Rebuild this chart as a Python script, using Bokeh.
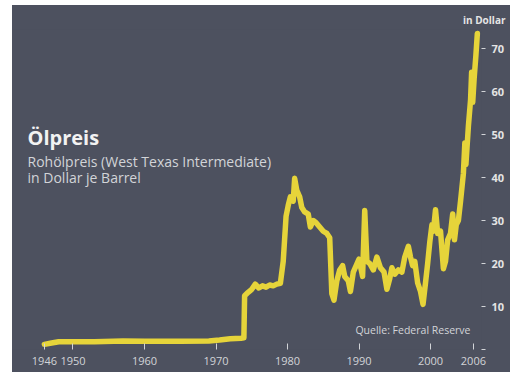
from bokeh.plotting import figure
from bokeh.models import Range1d, FixedTicker, Label, Title
from bokeh.embed import file_html
from bokeh.resources import INLINE

# WTI crude oil price, US dollars per barrel
years = [1946.0, 1947.0, 1948.0, 1953.0, 1957.0, 1960.0, 1965.0, 1969.0, 1970.5, 1972.0, 1973.5, 1973.9,
         1974.0, 1974.5, 1975.0, 1975.5, 1976.0, 1976.5, 1977.0, 1977.5, 1978.0, 1978.5, 1979.0, 1979.4,
         1979.8, 1980.1, 1980.4, 1980.8, 1981.0, 1981.3, 1981.7, 1982.0, 1982.4, 1982.9, 1983.2, 1983.6,
         1984.0, 1984.5, 1985.0, 1985.5, 1985.9, 1986.2, 1986.5, 1986.9, 1987.3, 1987.7, 1988.0, 1988.5,
         1988.8, 1989.2, 1989.6, 1990.0, 1990.5, 1990.8, 1991.1, 1991.5, 1992.0, 1992.5, 1993.0, 1993.5,
         1993.9, 1994.3, 1994.6, 1995.0, 1995.5, 1996.0, 1996.4, 1996.9, 1997.2, 1997.5, 1997.8, 1998.2,
         1998.6, 1998.95, 1999.3, 1999.6, 1999.9, 2000.2, 2000.4, 2000.7, 2001.0, 2001.4, 2001.8, 2002.1,
         2002.4, 2002.8, 2003.1, 2003.35, 2003.6, 2003.9, 2004.2, 2004.6, 2004.8, 2004.95, 2005.3, 2005.6,
         2005.75, 2005.9, 2006.1, 2006.35, 2006.55]
prices = [1.2, 1.5, 1.8, 1.8, 2.0, 1.9, 1.9, 2.0, 2.2, 2.5, 2.6, 2.7,
          12.5, 13.3, 14.0, 15.2, 14.3, 14.8, 14.5, 15.0, 14.8, 15.2, 15.4, 20.5,
          31.0, 33.5, 35.5, 34.5, 39.8, 37.0, 35.5, 33.0, 32.0, 31.5, 28.5, 30.0,
          29.5, 28.5, 27.5, 27.0, 26.0, 13.0, 11.5, 16.0, 18.5, 19.5, 17.0, 16.0,
          13.5, 18.0, 19.5, 21.0, 17.0, 32.3, 20.5, 20.0, 18.5, 21.5, 19.0, 18.0,
          14.0, 16.5, 19.0, 17.5, 18.5, 18.0, 21.5, 24.0, 21.5, 19.5, 20.5, 15.5,
          13.5, 10.5, 15.5, 20.0, 25.0, 29.0, 27.5, 32.5, 27.0, 27.5, 18.8, 20.5,
          25.5, 27.0, 31.5, 25.5, 29.0, 30.0, 34.5, 41.0, 48.0, 43.0, 52.0, 58.0,
          64.5, 57.5, 63.0, 68.5, 73.5]

year_ticks = [1946, 1950, 1960, 1970, 1980, 1990, 2000, 2006]
price_ticks = [0, 10, 20, 30, 40, 50, 60, 70]

BG = "#4d515f"
LINE = "#e6d43a"
TEXT = "#e4e4e4"
SUB = "#d2d4d8"
FONT = "Open Sans"

TOP = 24      # header strip above the plotting area
BOTTOM = 23   # room for the year labels
PX_PER_DOLLAR = 4.3
frame_h = 367 - TOP - BOTTOM

p = figure(width=498, height=367,
           x_range=Range1d(1941.54, 2007.13), y_range=Range1d(0, frame_h / PX_PER_DOLLAR),
           y_axis_location="right",
           output_backend="svg", toolbar_location=None,
           min_border_left=0, min_border_top=TOP, min_border_right=29, min_border_bottom=BOTTOM,
           background_fill_color=None, border_fill_color=BG, outline_line_color=None)
p.margin = (5, 0, 0, 12)
p.styles = {"background-color": BG}
p.grid.visible = False

# unit caption in the header strip, right-aligned over the price axis
p.add_layout(Title(text="in Dollar", align="right", offset=-24, standoff=6,
                   text_font=FONT, text_font_size="10px", text_font_style="bold",
                   text_color=TEXT), "above")

xa = p.xaxis[0]
xa.ticker = FixedTicker(ticks=year_ticks)
xa.axis_line_color = None
xa.minor_tick_line_color = None
xa.major_tick_in = 6
xa.major_tick_out = 0
xa.major_tick_line_color = SUB
xa.major_label_standoff = 7
xa.major_label_text_font = FONT
xa.major_label_text_font_size = "11px"
xa.major_label_text_color = SUB

ya = p.yaxis[0]
ya.ticker = FixedTicker(ticks=price_ticks)
ya.major_label_overrides = {0: ""}
ya.axis_line_color = None
ya.minor_tick_line_color = None
ya.major_tick_in = 0
ya.major_tick_out = 4
ya.major_tick_line_color = SUB
ya.major_label_standoff = 6
ya.major_label_text_font = FONT
ya.major_label_text_font_size = "11px"
ya.major_label_text_font_style = "bold"
ya.major_label_text_color = TEXT

p.line(years, prices, line_width=5.5, line_color=LINE, line_join="round", line_cap="round")

def add_text(x, y, text, size, color, style="normal"):
    p.add_layout(Label(x=x, y=y, text=text, text_font=FONT, text_font_size=size,
                       text_color=color, text_font_style=style, text_align="left",
                       text_baseline="alphabetic"))

add_text(1943.64, 49.3, "Ölpreis", "20px", "#f2f2f2", "bold")
add_text(1943.64, 43.7, "Rohölpreis (West Texas Intermediate)", "14px", SUB)
add_text(1943.64, 40.0, "in Dollar je Barrel", "14px", SUB)
add_text(1989.5, 4.65, "Quelle: Federal Reserve", "10.5px", SUB)

open("out.html", "w").write(file_html(p, INLINE))
